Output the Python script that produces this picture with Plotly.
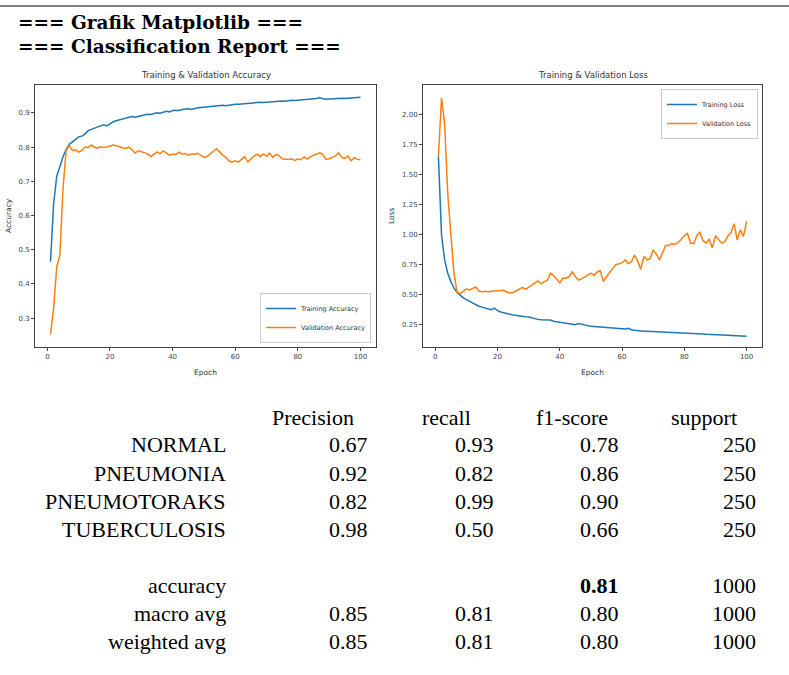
import plotly.graph_objects as go

W, H = 789, 675

# ---------------- data ----------------
epochs = list(range(1, 101))

train_acc = [
    0.465, 0.635, 0.715, 0.745, 0.772, 0.793, 0.808, 0.815, 0.823, 0.830,
    0.832, 0.838, 0.848, 0.852, 0.855, 0.858, 0.862, 0.865, 0.862, 0.868,
    0.874, 0.877, 0.879, 0.882, 0.884, 0.887, 0.889, 0.887, 0.889, 0.891,
    0.893, 0.896, 0.895, 0.898, 0.900, 0.899, 0.903, 0.905, 0.903, 0.907,
    0.908, 0.907, 0.910, 0.911, 0.912, 0.910, 0.913, 0.915, 0.916, 0.917,
    0.918, 0.919, 0.920, 0.921, 0.920, 0.922, 0.921, 0.923, 0.924, 0.925,
    0.925, 0.926, 0.927, 0.928, 0.929, 0.928, 0.930, 0.931, 0.930, 0.931,
    0.932, 0.933, 0.933, 0.934, 0.935, 0.934, 0.936, 0.937, 0.936, 0.937,
    0.938, 0.938, 0.939, 0.939, 0.940, 0.942, 0.945, 0.941, 0.940, 0.941,
    0.942, 0.941, 0.942, 0.943, 0.942, 0.943, 0.944, 0.943, 0.945, 0.946,
]

val_acc = [
    0.252, 0.330, 0.450, 0.485, 0.680, 0.790, 0.805, 0.790, 0.792, 0.785,
    0.790, 0.800, 0.798, 0.806, 0.800, 0.797, 0.801, 0.799, 0.800, 0.803,
    0.806, 0.804, 0.800, 0.798, 0.796, 0.800, 0.793, 0.782, 0.790, 0.786,
    0.783, 0.780, 0.772, 0.778, 0.786, 0.781, 0.789, 0.783, 0.776, 0.780,
    0.778, 0.785, 0.780, 0.781, 0.776, 0.780, 0.779, 0.782, 0.776, 0.770,
    0.772, 0.780, 0.788, 0.795, 0.786, 0.776, 0.770, 0.760, 0.756, 0.760,
    0.756, 0.764, 0.772, 0.757, 0.766, 0.774, 0.779, 0.772, 0.780, 0.773,
    0.782, 0.770, 0.778, 0.775, 0.766, 0.765, 0.764, 0.766, 0.761, 0.765,
    0.763, 0.771, 0.765, 0.772, 0.776, 0.780, 0.783, 0.778, 0.764, 0.766,
    0.771, 0.774, 0.783, 0.770, 0.767, 0.774, 0.760, 0.769, 0.764, 0.763,
]

train_loss = [
    1.650, 1.000, 0.790, 0.680, 0.610, 0.555, 0.520, 0.495, 0.475, 0.460,
    0.445, 0.432, 0.418, 0.405, 0.398, 0.392, 0.380, 0.376, 0.390, 0.368,
    0.358, 0.350, 0.345, 0.338, 0.333, 0.328, 0.322, 0.319, 0.317, 0.316,
    0.308, 0.302, 0.296, 0.292, 0.290, 0.286, 0.290, 0.280, 0.276, 0.272,
    0.268, 0.264, 0.258, 0.255, 0.252, 0.262, 0.256, 0.246, 0.241, 0.238,
    0.236, 0.234, 0.232, 0.229, 0.227, 0.226, 0.224, 0.222, 0.221, 0.219,
    0.216, 0.222, 0.210, 0.206, 0.202, 0.199, 0.198, 0.197, 0.196, 0.195,
    0.194, 0.193, 0.192, 0.190, 0.188, 0.186, 0.190, 0.185, 0.183, 0.181,
    0.180, 0.179, 0.178, 0.177, 0.178, 0.175, 0.172, 0.170, 0.169, 0.168,
    0.167, 0.166, 0.165, 0.164, 0.163, 0.161, 0.158, 0.160, 0.154, 0.155,
]

val_loss = [
    1.650, 2.135, 1.920, 1.340, 1.000, 0.680, 0.520, 0.510, 0.530, 0.548,
    0.540, 0.552, 0.565, 0.532, 0.525, 0.530, 0.524, 0.530, 0.532, 0.536,
    0.542, 0.538, 0.522, 0.515, 0.520, 0.532, 0.548, 0.562, 0.545, 0.560,
    0.580, 0.600, 0.615, 0.592, 0.610, 0.620, 0.680, 0.660, 0.630, 0.600,
    0.640, 0.638, 0.650, 0.690, 0.652, 0.622, 0.632, 0.648, 0.668, 0.680,
    0.662, 0.690, 0.700, 0.610, 0.650, 0.690, 0.720, 0.750, 0.760, 0.765,
    0.790, 0.760, 0.775, 0.830, 0.780, 0.712, 0.820, 0.790, 0.800, 0.870,
    0.840, 0.790, 0.850, 0.910, 0.910, 0.925, 0.920, 0.935, 0.960, 0.990,
    1.010, 0.930, 0.925, 0.990, 1.020, 0.950, 0.930, 0.960, 0.890, 0.990,
    0.960, 0.930, 0.940, 0.990, 1.020, 1.090, 0.955, 1.040, 0.985, 1.110,
]

acc_ticks = [0.3, 0.4, 0.5, 0.6, 0.7, 0.8, 0.9]
loss_ticks = [0.25, 0.50, 0.75, 1.00, 1.25, 1.50, 1.75, 2.00]
epoch_ticks = [0, 20, 40, 60, 80, 100]

header_titles = ["=== Grafik Matplotlib ===", "=== Classification Report ==="]
report_columns = ["Precision", "recall", "f1-score", "support"]
report_rows = ["NORMAL", "PNEUMONIA", "PNEUMOTORAKS", "TUBERCULOSIS"]
precision = ["0.67", "0.92", "0.82", "0.98"]
recall = ["0.93", "0.82", "0.99", "0.50"]
f1_score = ["0.78", "0.86", "0.90", "0.66"]
support = ["250", "250", "250", "250"]
summary_rows = ["accuracy", "macro avg", "weighted avg"]
summary_precision = ["", "0.85", "0.85"]
summary_recall = ["", "0.81", "0.81"]
summary_f1 = ["<b>0.81</b>", "0.80", "0.80"]
summary_support = ["1000", "1000", "1000"]

# ---------------- helpers ----------------
def px(x):
    return x / W

def py(y):
    return 1 - y / H

BLUE = "#1f77b4"
ORANGE = "#ff7f0e"
AXC = "#444444"
MPL_FONT = "DejaVu Sans"
SERIF = "Liberation Serif"
TITLE_SERIF = "DejaVu Serif"

fig = go.Figure()
fig.add_trace(go.Scatter(x=epochs, y=train_acc, mode="lines", name="Training Accuracy",
                         line=dict(color=BLUE, width=1.5), xaxis="x", yaxis="y", legend="legend"))
fig.add_trace(go.Scatter(x=epochs, y=val_acc, mode="lines", name="Validation Accuracy",
                         line=dict(color=ORANGE, width=1.5), xaxis="x", yaxis="y", legend="legend"))
fig.add_trace(go.Scatter(x=epochs, y=train_loss, mode="lines", name="Training Loss",
                         line=dict(color=BLUE, width=1.5), xaxis="x2", yaxis="y2", legend="legend2"))
fig.add_trace(go.Scatter(x=epochs, y=val_loss, mode="lines", name="Validation Loss",
                         line=dict(color=ORANGE, width=1.5), xaxis="x2", yaxis="y2", legend="legend2"))

axis_common = dict(showline=True, mirror=True, linecolor=AXC, linewidth=0.8,
                   ticks="outside", ticklen=3, tickwidth=0.8, tickcolor=AXC,
                   showgrid=False, zeroline=False,
                   tickfont=dict(family=MPL_FONT, size=7, color=AXC))

legend_common = dict(bgcolor="white", bordercolor="#cccccc", borderwidth=1,
                     font=dict(family=MPL_FONT, size=6.5, color="#333"),
                     itemwidth=30, tracegroupgap=0)

fig.update_layout(
    width=W, height=H,
    margin=dict(l=0, r=0, t=0, b=0),
    paper_bgcolor="white", plot_bgcolor="white",
    xaxis=dict(domain=[px(35), px(376)], range=[-3.95, 104.95], tickvals=epoch_ticks,
               anchor="y", **axis_common),
    yaxis=dict(domain=[py(347), py(85)], range=[0.2155, 0.9815], tickvals=acc_ticks,
               tickformat=".1f", anchor="x", **axis_common),
    xaxis2=dict(domain=[px(423), px(762)], range=[-3.95, 104.95], tickvals=epoch_ticks,
                anchor="y2", **axis_common),
    yaxis2=dict(domain=[py(347), py(85)], range=[0.0665, 2.2435], tickvals=loss_ticks,
                tickformat=".2f", anchor="x2", **axis_common),
    legend=dict(x=px(371), y=py(343), xanchor="right", yanchor="bottom", **legend_common),
    legend2=dict(x=px(758), y=py(89), xanchor="right", yanchor="top", **legend_common),
    showlegend=True,
)

ann = []

def text(x, y, s, size, xanchor="center", family=SERIF, color="black", angle=0):
    ann.append(dict(x=px(x), y=py(y), xref="paper", yref="paper", text=s,
                    showarrow=False, xanchor=xanchor, yanchor="middle",
                    textangle=angle, font=dict(family=family, size=size, color=color)))

# page titles
text(16, 22, "<b>" + header_titles[0] + "</b>", 18.5, xanchor="left", family=TITLE_SERIF)
text(16, 47, "<b>" + header_titles[1] + "</b>", 18.5, xanchor="left", family=TITLE_SERIF)

# chart titles and axis labels
text(205.5, 75, "Training & Validation Accuracy", 8.5, family=MPL_FONT, color="#333")
text(592.5, 75, "Training & Validation Loss", 8.5, family=MPL_FONT, color="#333")
text(205.5, 372, "Epoch", 7.5, family=MPL_FONT, color="#333")
text(592.5, 372, "Epoch", 7.5, family=MPL_FONT, color="#333")
text(8, 216, "Accuracy", 7.5, family=MPL_FONT, color="#333", angle=-90)
text(391, 216, "Loss", 7.5, family=MPL_FONT, color="#333", angle=-90)

# classification report table
TS = 22
header_x = [313, 447, 572, 704]
for hx, h in zip(header_x, report_columns):
    text(hx, 417, h, TS)

label_right = 228
col_right = [370, 496, 621, 758]
row_y = [445, 473, 501, 529]
for i, r in enumerate(report_rows):
    y = row_y[i]
    text(label_right, y, r, TS, xanchor="right")
    for cx, v in zip(col_right, [precision[i], recall[i], f1_score[i], support[i]]):
        text(cx, y, v, TS, xanchor="right")

sum_y = [585, 613, 641]
for i, r in enumerate(summary_rows):
    y = sum_y[i]
    text(label_right, y, r, TS, xanchor="right")
    for cx, v in zip(col_right, [summary_precision[i], summary_recall[i], summary_f1[i], summary_support[i]]):
        if v:
            text(cx, y, v, TS, xanchor="right")

fig.update_layout(annotations=ann)

# top rule
fig.add_shape(type="line", xref="paper", yref="paper", x0=0, x1=1, y0=py(6), y1=py(6),
              line=dict(color="#808080", width=2))

fig.write_html("out.html",
               config={"displayModeBar": False},
               post_script="document.body.style.margin='0';document.body.style.overflow='hidden';")
